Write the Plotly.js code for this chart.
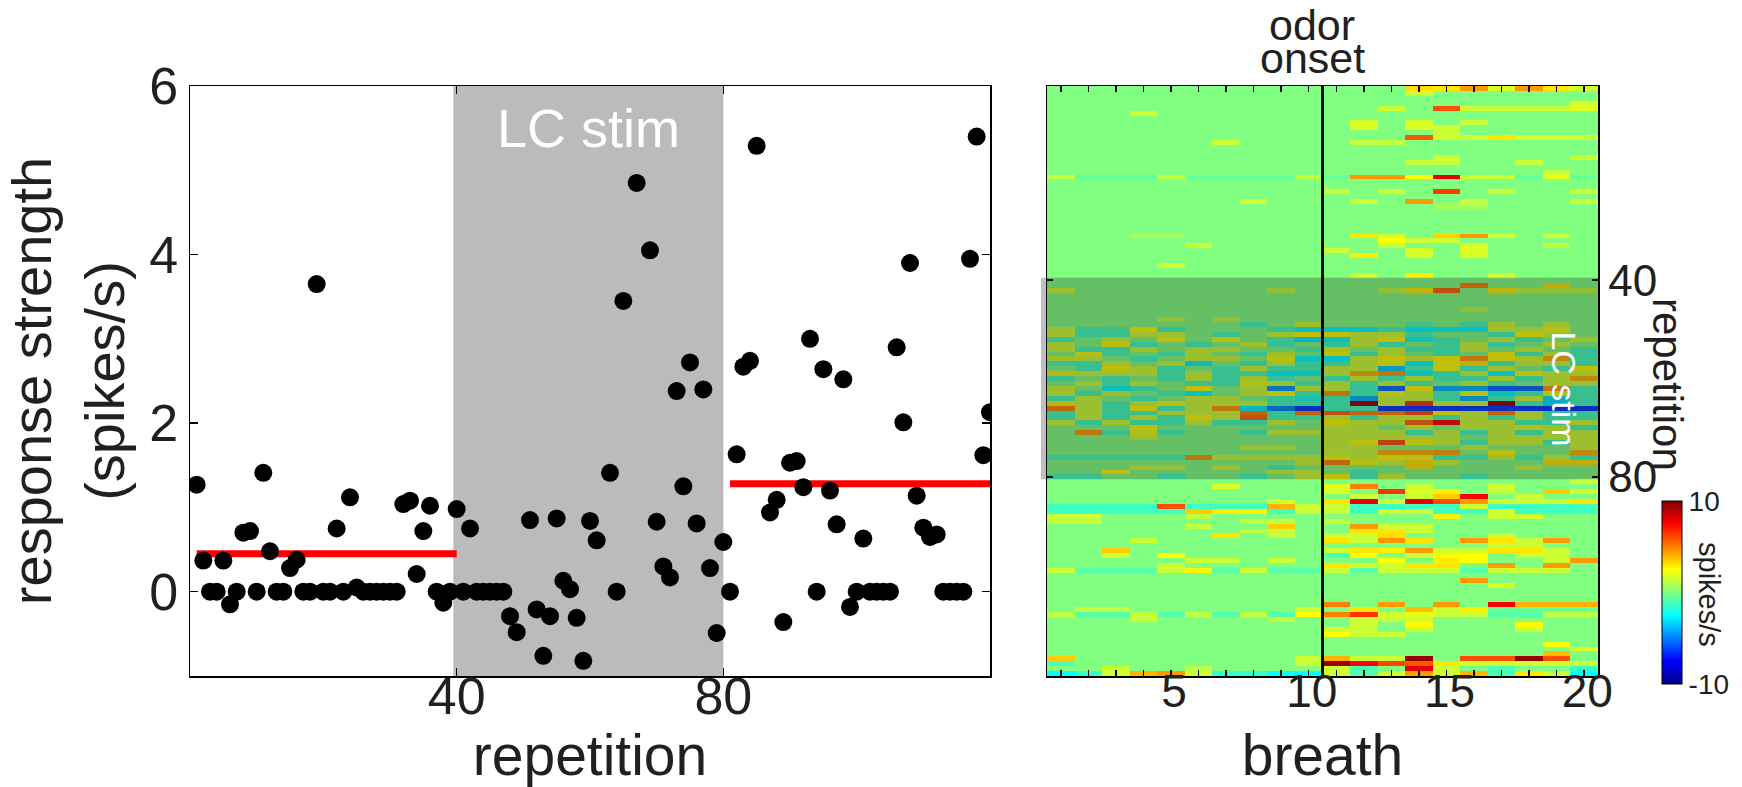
<!DOCTYPE html>
<html><head><meta charset="utf-8">
<script src="https://cdn.plot.ly/plotly-3.0.1.min.js"></script>
<style>html,body{margin:0;padding:0;background:#fff;}#chart{width:1742px;height:787px;}</style>
</head><body><div id="chart"></div>
<script>
// ---------- left panel data: response strength per repetition (index = repetition-1) ----------
const responseStrength = [
  1.27,0.37,0,0,0.37,-0.15,0,0.70,0.72,0,
  1.41,0.48,0,0,0.28,0.38,0,0,3.65,0,
  0,0.75,0,1.12,0.05,0,0,0,0,0,
  0,1.04,1.08,0.21,0.72,1.02,0,-0.13,0,0.98,
  0,0.75,0,0,0,0,0,-0.29,-0.48,null,
  0.85,-0.21,-0.76,-0.29,0.87,0.13,0.03,-0.31,-0.82,0.84,
  0.61,null,1.41,0,3.45,null,4.85,null,4.05,0.83,
  0.30,0.17,2.38,1.25,2.72,0.81,2.40,0.28,-0.49,0.59,
  0,1.63,2.67,2.74,5.29,null,0.94,1.09,-0.36,1.53,
  1.55,1.24,3.0,0,2.64,1.20,0.80,2.52,-0.18,0,
  0.63,0,0,0,0,2.90,2.01,3.90,1.14,0.76,
  0.65,0.68,0,0,0,0,3.95,5.40,1.62,2.13
];
const repetition = responseStrength.map((v, i) => i + 1);
const preMeanRange = [1, 40];
const preMean = 0.45;
const postMeanRange = [81, 120];
const postMean = 1.28;
const stimRange = [39.5, 80];
const leftXTicks = [40, 80];
const leftYTicks = [0, 2, 4, 6];

// ---------- right panel data: heat map, per repetition list of [breath, spikes/s] (others 0) ----------
const heatCells = [
/*1*/ [[14,3.2],[15,3],[16,4.5],[17,1.8],[18,4.5],[19,3],[20,1.5]],
/*2*/ [[14,1.5]],
/*3*/ [],
/*4*/ [[20,1.8]],
/*5*/ [[13,1.5],[15,6],[16,1.5],[17,1.5],[18,1.5],[19,1.5],[20,1.8]],
/*6*/ [[4,1.5]],
/*7*/ [],
/*8*/ [[12,1.8],[14,1.8],[16,1.5]],
/*9*/ [[12,1.8],[14,1.8],[15,1.5]],
/*10*/ [[15,1.5]],
/*11*/ [[14,5.8],[15,1.5],[16,1.5],[17,3],[18,1.5],[19,1.5],[20,1.5]],
/*12*/ [[7,1.5],[12,1.3],[13,1.3]],
/*13*/ [],
/*14*/ [],
/*15*/ [[15,1.5],[20,1.5]],
/*16*/ [[14,1.5],[15,1.5],[18,1.5]],
/*17*/ [],
/*18*/ [[19,1.5]],
/*19*/ [[1,1.3],[2,-0.6],[3,-0.6],[4,-0.6],[5,1.2],[6,-0.5],[7,-0.5],[8,-0.5],[9,-0.5],[10,1.2],[11,-0.5],[12,4.5],[13,4.5],[14,2.5],[15,8],[16,1.5],[17,1.5],[18,-0.5],[19,2],[20,-0.5]],
/*20*/ [],
/*21*/ [],
/*22*/ [[11,1.5],[13,1.5],[15,6.3],[17,1.5],[20,1.5]],
/*23*/ [],
/*24*/ [[8,1.5],[12,1.5],[14,4.5],[16,1.5],[20,1.5]],
/*25*/ [[15,0.8],[16,0.8]],
/*26*/ [],
/*27*/ [],
/*28*/ [],
/*29*/ [],
/*30*/ [],
/*31*/ [[4,0.7],[5,0.7],[12,3],[13,1.5],[15,3.3],[16,4.5],[17,1.5],[19,1.5]],
/*32*/ [[13,2.5],[14,1.5],[15,1.5]],
/*33*/ [[6,1.5],[13,1.3],[16,1.8],[19,1.3]],
/*34*/ [[11,1.5],[14,1.8],[16,1.8]],
/*35*/ [[12,2.8],[14,1.8],[16,1.8]],
/*36*/ [],
/*37*/ [[5,1.5]],
/*38*/ [],
/*39*/ [[12,1.5],[14,2.8],[17,1.5]],
/*40*/ [],
/*41*/ [[16,5],[19,3]],
/*42*/ [[1,1.5],[9,1.3],[13,1.3],[14,2.8],[15,5.5],[17,2.8],[18,1.3],[19,1.3],[20,1.3]],
/*43*/ [],
/*44*/ [],
/*45*/ [],
/*46*/ [[16,1.3]],
/*47*/ [],
/*48*/ [[5,1.3],[7,1.3]],
/*49*/ [[8,-1.3],[10,1.8],[14,-1],[16,-1.2],[17,1.5],[19,1.5]],
/*50*/ [[1,1.5],[2,-1.2],[3,-1],[4,2.5],[5,-1.2],[9,-1.2],[10,-2.5],[11,-2.5],[12,-2.5],[13,-1.2],[14,-2.5],[15,-2.5],[16,-2.5],[17,1.5],[18,1.5],[19,2.3]],
/*51*/ [[1,1.5],[2,-1.2],[3,-1.2],[4,1.5],[5,1.5],[7,-1.2],[9,1.5],[10,2.5],[11,2.5],[12,1.5],[13,1.5],[14,-1.2],[17,-1.2],[18,2.5],[19,1.5]],
/*52*/ [[1,-1.2],[3,1.5],[5,2.5],[7,2.5],[9,-1.2],[10,-2.8],[11,-2.5],[12,1.5],[13,2.5],[14,-2.4],[15,-1.2],[17,1.5],[18,-1.2],[20,1.5]],
/*53*/ [[1,1.5],[3,2.3],[4,-1.2],[6,-1.2],[8,1.5],[9,-1.2],[11,-1.2],[12,1.5],[13,-1.2],[15,-1.2],[16,1.5],[17,-1.2],[19,1.5]],
/*54*/ [[1,1.5],[2,-1.2],[3,-1.2],[4,1.5],[6,1.5],[7,1.5],[10,-1.2],[11,2],[13,1.5],[14,-1.2],[15,-1.2],[16,1.5],[18,1.5],[20,-1.2]],
/*55*/ [[2,2.3],[3,-1.2],[5,-1.2],[6,1.5],[8,-1.2],[9,1.5],[11,2.5],[12,-1.2],[13,1.5],[15,-1.2],[17,2.5],[18,-1.2],[19,1.5],[20,-1.2]],
/*56*/ [[1,1.5],[2,1.5],[4,-1.2],[6,1.5],[7,1.5],[9,2.3],[10,-2.5],[11,-2.5],[12,1.5],[13,2.5],[14,1.5],[15,2.5],[16,4.5],[17,2.5],[18,1.5],[19,4],[20,-1.2]],
/*57*/ [[1,-1.2],[2,-1.2],[3,1.5],[5,1.5],[6,-2.7],[8,-1.2],[9,1.5],[10,-1.2],[11,-1.2],[12,1.5],[13,2.3],[14,-2.5],[15,2.5],[16,3],[17,-1.2],[18,1.5],[19,1.5],[20,-1.2]],
/*58*/ [[2,-1.2],[3,2.5],[4,1.5],[5,-1.2],[7,-1.2],[8,1.5],[9,-1.2],[10,-1.2],[11,1.5],[12,1.5],[13,-3.5],[14,-1.2],[15,2.5],[16,-1.2],[17,1.5],[19,-1.2],[20,2.5]],
/*59*/ [[1,2.8],[2,1.5],[3,1.5],[4,1.5],[5,-1.2],[6,1.5],[7,-1.2],[8,-1.2],[9,-2.5],[10,-2.5],[11,1.5],[12,4],[13,4.5],[14,-2.5],[15,-1.2],[16,1.5],[17,-2.5],[18,2.5],[19,1.5],[20,1.5]],
/*60*/ [[1,-1.2],[3,-1.2],[5,-1.2],[6,1.5],[7,-1.2],[8,1.5],[9,-1.2],[11,-1.2],[12,1.5],[13,-1.2],[14,1.5],[15,-1.2],[16,-1.2],[17,1.5],[18,-1.2],[19,1.5],[20,4]],
/*61*/ [[2,1.5],[3,-1.2],[4,1.5],[6,-1.2],[7,-1.2],[8,2],[9,1.5],[10,-1.2],[11,1.5],[12,-1.2],[13,1.5],[14,-1.2],[16,1.5],[17,-1.2],[19,1.5],[20,1.5]],
/*62*/ [[1,1.5],[3,-2.4],[4,-1.2],[6,2.5],[8,1.5],[9,-4.5],[10,1.5],[11,1.5],[12,-1.2],[13,-5.5],[14,2.5],[15,-4],[16,-4],[17,-5.5],[18,-5.5],[19,4.5],[20,-1.2]],
/*63*/ [[1,1.5],[2,-1.2],[3,1.5],[5,-1.2],[6,-2.5],[8,1.5],[9,2.5],[10,-1.2],[11,4.5],[12,-1.2],[13,2.3],[14,1.5],[15,-1.2],[16,2.3],[17,-2.6],[18,-1.2],[19,2.3],[20,-1.2]],
/*64*/ [[1,-1.2],[2,1.5],[4,-1.2],[6,1.5],[7,1.5],[9,-1.2],[10,-2],[11,-1.2],[12,-4],[13,1.5],[14,1.5],[15,-1.2],[16,-4],[17,-1.2],[18,1.5],[19,-3],[20,-1.2]],
/*65*/ [[1,2.8],[2,1.5],[3,-1.2],[4,1.5],[5,2.3],[6,1.5],[7,1.5],[8,1.5],[9,-1.2],[10,-1.2],[11,-1.2],[12,9.5],[13,1.5],[14,6.5],[15,1.5],[16,1.5],[17,9.5],[18,-1.2],[19,-3],[20,-1.2]],
/*66*/ [[1,5],[2,1.5],[3,-1.2],[4,2.5],[5,-1.2],[6,1.5],[7,4.5],[8,-2.8],[9,-5],[10,-6.5],[11,-1.2],[12,-1.2],[13,-6.5],[14,-6.5],[15,-6.5],[16,-6.5],[17,-6.5],[18,-6.5],[19,-6.5],[20,-6.5]],
/*67*/ [[1,-1.2],[2,1.5],[3,-1.2],[4,-1.2],[5,1.5],[6,1.5],[7,1.5],[8,5],[9,-1.2],[10,5],[11,5.5],[12,5],[13,5],[14,6],[15,2.5],[16,1.5],[17,5],[18,1.5],[19,-1.2],[20,-1.2]],
/*68*/ [[1,-1.2],[2,1.5],[3,-1.2],[4,1.5],[5,-1.2],[6,2.5],[7,1.5],[8,5.5],[9,-1.2],[10,-1.2],[11,1.5],[12,-1.2],[13,1.5],[14,1.5],[15,-1.2],[16,1.5],[17,-1.2],[18,1.5],[19,-1.2],[20,-1.2]],
/*69*/ [[1,1.5],[2,-1.2],[3,1.5],[4,-1.2],[5,-1.2],[6,1.5],[7,-1.2],[8,-1.2],[9,1.5],[11,2.5],[12,1.5],[13,1.5],[14,5.5],[15,7.5],[16,1.5],[17,1.5],[18,-1.2],[19,-1.2],[20,1.5]],
/*70*/ [[4,2.5],[11,1.5],[12,1.5],[14,1.5],[16,1.5],[17,1.5],[18,2.3],[19,1.5],[20,-1.2]],
/*71*/ [[2,4.5],[3,-1.2],[4,2],[5,-1.2],[8,-1.2],[9,1.5],[10,1.5],[11,1.5],[12,1.5],[13,1.5],[14,-1.2],[15,1.5],[16,-1.2],[17,1.5],[18,-1.2],[19,1.5],[20,1.5]],
/*72*/ [[4,1.5],[11,1.5],[12,1.5],[13,1.5],[14,1.5],[15,1.5],[17,1.5],[18,1.5],[19,1.5],[20,1.5]],
/*73*/ [[11,1.5],[12,2.3],[13,6],[14,2.3],[15,1.5],[16,-1.2],[17,1.5],[18,1.5],[19,-1.2],[20,1.5]],
/*74*/ [[8,1.5],[9,1.5],[11,1.5],[12,1.5],[16,1.5],[20,1.5]],
/*75*/ [[11,1.5],[12,1.5],[13,4],[14,4],[15,4.2],[17,2.3],[20,4]],
/*76*/ [[1,-1.2],[2,-1.2],[3,-1.2],[4,-1.2],[5,-1.2],[6,4.5],[7,1.5],[8,1.5],[9,1.5],[10,1.5],[11,2.3],[12,1.5],[13,2.5],[14,2.3],[15,-1.2],[16,-1.2],[17,1.5],[18,-1.2],[19,1.5],[20,-1.2]],
/*77*/ [[10,1.5],[11,5],[12,2.3],[13,1.5],[14,3],[15,1.5],[19,3],[20,3]],
/*78*/ [[4,1.5],[5,1.5],[7,1.5],[9,-1.2],[14,3],[18,1.5]],
/*79*/ [[3,2.5],[9,1.5],[10,1.5],[12,-1.2]],
/*80*/ [[1,-1.2],[2,-1.2],[5,-1.2],[8,-1.2],[10,1.5],[11,2.5],[12,-1.2],[13,1.5],[16,-1.2]],
/*81*/ [[20,1.5]],
/*82*/ [[7,1.8],[11,1.8],[12,5],[14,1.5],[17,1.5]],
/*83*/ [[11,1.8],[13,6.5],[14,1.8],[15,2.8],[17,1.5],[19,3.5],[20,1.5]],
/*84*/ [[12,1.5],[14,1.5],[15,3.5],[16,7.5],[18,1.5]],
/*85*/ [[9,1.5],[11,3],[12,8],[13,1.5],[14,8],[15,6],[16,4.5],[17,1.5],[18,1.5],[19,1.5],[20,3]],
/*86*/ [[1,-1.3],[2,-1.3],[3,-1.3],[4,-1.3],[5,6],[6,-1.3],[7,-1.3],[8,-1.3],[9,4],[10,1.5],[11,1.5],[12,-1.3],[13,-1.3],[14,-1.3],[15,-1.2],[16,1.5],[17,-1.3],[18,-1.3],[19,-1.3],[20,-1.3]],
/*87*/ [[1,-1.3],[2,-1.3],[3,-1.3],[4,-1.3],[5,-1.2],[6,3.5],[7,2.8],[8,2.8],[9,-1.2],[10,1.5],[11,1.5],[12,-1.3],[13,1.5],[14,1.5],[15,-1.3],[16,-1.2],[17,1.5],[18,-1.3],[19,-1.3],[20,-1.3]],
/*88*/ [[1,1.5],[2,1.5],[6,1.2],[15,2.8],[17,1.5],[18,1.5]],
/*89*/ [[1,1.3],[2,1.3],[8,1.3],[9,1.3],[11,1.5]],
/*90*/ [[6,1.3],[9,3.5],[12,4.5],[13,1.5],[14,1.5]],
/*91*/ [[8,1.3],[9,1.3],[12,3],[13,3],[14,1.5]],
/*92*/ [[7,3],[9,1.5],[11,1.5],[12,1.5],[13,3.2],[17,1.5]],
/*93*/ [[4,1.5],[11,3],[12,1.5],[13,4.5],[14,3],[16,4.5],[17,3],[18,1.5],[19,4.5]],
/*94*/ [[17,1.5],[18,1.5]],
/*95*/ [[3,3.5],[11,1.5],[12,3],[13,2.8],[14,4.5],[15,1.5],[16,1.5],[17,3],[18,3],[19,1.5]],
/*96*/ [[3,1.5],[5,2.5],[11,-1],[12,2.5],[14,1.5],[15,2.5],[16,2.5],[18,1.5],[19,1.5]],
/*97*/ [[6,1.5],[7,1.5],[9,1.5],[13,2.5],[15,2.8],[16,2.5],[19,1.5],[20,4.5]],
/*98*/ [[5,1.5],[11,3],[12,1.5],[13,1.5],[14,3],[15,3],[17,4.5],[19,4.5]],
/*99*/ [[1,1.5],[2,-0.8],[3,-0.8],[4,-0.8],[5,1.5],[6,2.7],[7,-0.8],[8,1.5],[9,-0.8],[10,-0.8],[11,1.5],[12,-0.8],[13,1.5],[14,1.5],[15,1.5],[16,-0.8],[17,1.5],[18,1.5],[19,1.5]],
/*100*/ [],
/*101*/ [[16,4.5]],
/*102*/ [[17,1.8]],
/*103*/ [],
/*104*/ [],
/*105*/ [],
/*106*/ [[11,5],[13,4.5],[15,4.5],[17,7.5],[18,4],[19,4],[20,4]],
/*107*/ [[2,1.2],[3,1.2],[10,1.5],[12,3],[14,3.8],[15,1.5],[16,2.8],[17,-0.5],[18,-0.5],[19,-0.5],[20,-0.5]],
/*108*/ [[1,1.2],[2,-0.8],[3,-0.8],[4,1.2],[5,-0.8],[6,1.2],[7,-0.8],[8,1.2],[9,-0.8],[10,2.5],[11,5],[12,6.5],[13,1.5],[14,2],[15,1.5],[16,1.5],[17,-0.8],[18,-0.8],[19,1.2],[20,1.2]],
/*109*/ [[4,1.5],[9,1.2],[12,1.5],[13,1.5],[14,1.5]],
/*110*/ [[12,1.5],[14,2.6],[18,2.6]],
/*111*/ [[11,1.5],[12,1.5],[14,1.5],[18,1.5]],
/*112*/ [[11,2.5],[12,1.5],[13,1.5]],
/*113*/ [],
/*114*/ [[19,2.5]],
/*115*/ [[20,1.8]],
/*116*/ [[19,3.8]],
/*117*/ [[1,3.5],[10,1.5],[11,4],[12,1.5],[13,1.5],[14,9.5],[16,6],[17,6],[18,9.5],[19,6]],
/*118*/ [[1,-1],[10,1.5],[11,9.5],[12,7.5],[13,6.2],[14,5.8],[15,3],[16,1.5],[17,1.5],[18,1.5],[19,1.5],[20,1.5]],
/*119*/ [[3,1.5],[6,1.2],[11,1.5],[12,-1],[14,8],[15,1.5],[17,-1],[20,-1.5]],
/*120*/ [[1,-2.5],[2,-1.5],[3,1.5],[4,4],[5,4.5],[6,1.5],[7,-1.5],[8,-1.5],[9,-2.5],[10,-2.5],[11,1.5],[12,-1],[13,1.5],[14,4.5],[15,1.5],[16,4],[17,-1],[18,3],[19,1.5],[20,-2.5]]
];
const breaths = [1,2,3,4,5,6,7,8,9,10,11,12,13,14,15,16,17,18,19,20];
const breathTickText = ['','','','','5','','','','','10','','','','','15','','','','','20'];
const heatYTicks = [40, 80];
const odorOnsetBreath = 10.5;
const heatStimRange = [39.5, 80.5];
const colorRange = [-10, 10];

// build the dense matrix from the cell lists
const z = heatCells.map(cells => {
  const row = breaths.map(() => 0);
  cells.forEach(([b, v]) => { row[b - 1] = v; });
  return row;
});

const FONT = 'Liberation Sans, Arial, Helvetica, sans-serif';
const TXT = '#231f20';
const jet = [[0,'rgb(0,0,135)'],[0.125,'rgb(0,0,255)'],[0.375,'rgb(0,255,255)'],
             [0.625,'rgb(255,255,0)'],[0.875,'rgb(255,0,0)'],[1,'rgb(128,0,0)']];

const W = 1742, H = 787;
const yDom = [1 - 676/H, 1 - 86/H];

const traces = [
  {type:'scatter', mode:'lines', x:preMeanRange, y:[preMean,preMean], xaxis:'x', yaxis:'y',
   line:{color:'#ff0000', width:7}, hoverinfo:'skip', showlegend:false},
  {type:'scatter', mode:'lines', x:postMeanRange, y:[postMean,postMean], xaxis:'x', yaxis:'y',
   line:{color:'#ff0000', width:7}, hoverinfo:'skip', showlegend:false},
  {type:'scatter', mode:'markers', x:repetition, y:responseStrength, xaxis:'x', yaxis:'y',
   marker:{color:'#000', size:18, line:{width:0}}, showlegend:false},
  {type:'heatmap', x:breaths, y:repetition, z:z, xaxis:'x2', yaxis:'y2',
   zmin:colorRange[0], zmax:colorRange[1], colorscale:jet, zsmooth:false,
   colorbar:{x:1662/W, xanchor:'left', y:1-684/H, yanchor:'bottom', len:183/H, lenmode:'fraction',
     thickness:20, outlinewidth:1, outlinecolor:'#000', tickvals:colorRange, ticktext:['-10','10'],
     ticks:'', tickfont:{family:FONT, size:28, color:TXT}, ypad:0, xpad:0}}
];

const axisCommon = {showline:true, linecolor:'#000', linewidth:1.5, mirror:'allticks', ticks:'inside',
  tickcolor:'#000', tickwidth:1.5, showgrid:false, zeroline:false, automargin:false};

const layout = {
  width:W, height:H, margin:{l:0,r:0,t:0,b:0}, paper_bgcolor:'#fff', plot_bgcolor:'#fff',
  font:{family:FONT, color:TXT},
  showlegend:false,
  xaxis: Object.assign({}, axisCommon, {domain:[190/W, 990/W], range:[0,120], tickvals:leftXTicks,
    ticklen:8, ticklabelstandoff:-26, tickfont:{size:52, family:FONT, color:TXT},
    title:{text:'repetition', font:{size:57, family:FONT, color:TXT}, standoff:22}}),
  yaxis: Object.assign({}, axisCommon, {domain:yDom, range:[-1,6], tickvals:leftYTicks, ticklen:8,
    tickfont:{size:52, family:FONT, color:TXT},
    title:{text:'response strength<br>(spikes/s)', font:{size:56, family:FONT, color:TXT}, standoff:40}}),
  xaxis2: Object.assign({}, axisCommon, {domain:[1047/W, 1598/W], range:[0.5,20.5], anchor:'y2',
    tickvals:breaths, ticktext:breathTickText, ticklen:6, ticklabelstandoff:-26,
    tickfont:{size:46, family:FONT, color:TXT}, ticklabelshift:3,
    title:{text:'breath', font:{size:57, family:FONT, color:TXT}, standoff:22}}),
  yaxis2: Object.assign({}, axisCommon, {domain:yDom, range:[120.5,0.5], anchor:'x2', side:'right',
    tickvals:heatYTicks, ticklen:6, tickfont:{size:44, family:FONT, color:TXT}}),
  shapes:[
    {type:'rect', xref:'x', yref:'y domain', x0:stimRange[0], x1:stimRange[1], y0:0, y1:1,
     fillcolor:'#bcbabd', line:{width:0}, layer:'below'},
    {type:'rect', xref:'paper', yref:'y2', x0:1041/W, x1:1598/W, y0:heatStimRange[0], y1:heatStimRange[1],
     fillcolor:'rgba(35,35,35,0.29)', line:{width:0}, layer:'above'},
    {type:'line', xref:'x2', yref:'y2 domain', x0:odorOnsetBreath, x1:odorOnsetBreath, y0:0, y1:1,
     line:{color:'#000', width:3}, layer:'above'}
  ],
  annotations:[
    {text:'LC stim', xref:'x', yref:'y', x:(stimRange[0]+stimRange[1])/2, y:5.5, showarrow:false,
     font:{size:54, color:'#fff', family:FONT}, xanchor:'center', yanchor:'middle'},
    {text:'odor', xref:'paper', yref:'paper', x:1312/W, y:1-25/H, showarrow:false,
     font:{size:43, color:TXT, family:FONT}, xanchor:'center', yanchor:'middle'},
    {text:'onset', xref:'paper', yref:'paper', x:1312/W, y:1-58/H, showarrow:false,
     font:{size:43, color:TXT, family:FONT}, xanchor:'center', yanchor:'middle'},
    {text:'LC stim', xref:'paper', yref:'y2', x:1564/W, y:62, showarrow:false, textangle:90,
     font:{size:34, color:'#fff', family:FONT}, xanchor:'center', yanchor:'middle'},
    {text:'repetition', xref:'paper', yref:'paper', x:1668/W, y:1-384/H, showarrow:false, textangle:90,
     font:{size:42, color:TXT, family:FONT}, xanchor:'center', yanchor:'middle'},
    {text:'spikes/s', xref:'paper', yref:'paper', x:1709/W, y:1-594/H, showarrow:false, textangle:90,
     font:{size:29, color:TXT, family:FONT}, xanchor:'center', yanchor:'middle'}
  ]
};

Plotly.newPlot('chart', traces, layout, {staticPlot:true, displayModeBar:false});
</script>
</body></html>
